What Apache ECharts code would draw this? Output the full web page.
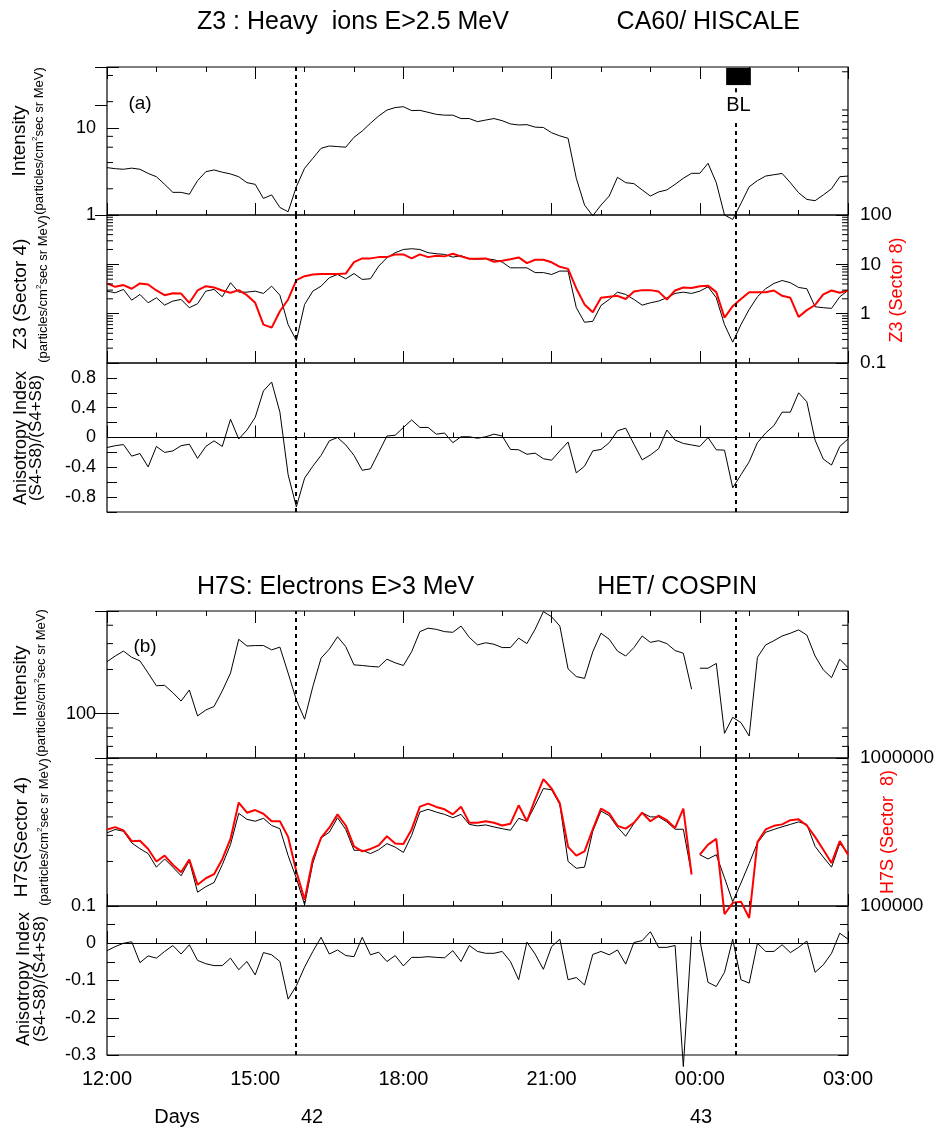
<!DOCTYPE html>
<html><head><meta charset="utf-8">
<script src="https://cdn.jsdelivr.net/npm/echarts@6/dist/echarts.min.js"></script>
<style>html,body{margin:0;padding:0;background:#fff}#c{width:945px;height:1130px}</style>
</head><body><div id="c"></div>
<script>
const FONT = 'Liberation Sans';
const stepMinutes = 10;                      // 10-minute averages from 12:00
const timeTickLabels = ['12:00','15:00','18:00','21:00','00:00','03:00'];
const eventClocks = ['15:50','00:44'];       // dotted vertical lines
const blClocks = ['00:32','01:02'];          // BL interval
const breakAfterIndexB = 71;                 // (b) data break between 23:50 and 00:00

// ---- Panel (a): Z3 heavy ions ----
const intensityA = [3.5,3.4,3.35,3.45,3.35,3.0,2.75,2.25,1.82,1.82,
 1.73,2.48,3.14,3.29,3.1,2.96,2.75,2.35,2.25,1.55,
 1.7,1.22,1.09,2.11,3.44,4.47,5.83,6.2,6.1,6.0,
 7.8,9.2,11.3,13.7,16.0,17.1,17.5,15.8,15.9,15.1,
 14.3,14.0,14.0,12.8,12.8,11.8,12.3,12.8,12.1,11.1,
 10.8,10.9,10.2,10.1,8.8,8.1,7.6,2.64,1.3,0.98,
 1.3,1.65,2.71,2.35,2.29,1.94,1.65,1.84,1.94,2.25,
 2.64,3.01,3.01,3.92,2.35,1.0,0.89,1.36,2.11,2.48,
 2.8,2.9,3.0,2.35,1.8,1.51,1.46,1.7,2.0,2.75,2.8];
const z3Sector4 = [2.86,2.65,3.1,1.88,2.45,1.66,2.1,1.49,1.8,1.94,
 1.32,1.59,2.86,3.1,2.2,4.24,2.73,2.73,2.86,2.57,
 3.61,2.37,0.6,0.286,1.54,2.86,3.61,5.35,6.24,5.1,
 6.5,4.94,5.1,9.2,13.6,17.2,20,20.7,20,17.2,
 16.4,15.9,14,15,13,12.7,13,12.4,11.1,8.5,
 8.5,8.5,6.8,6.8,6.24,7.3,7.3,1.32,0.67,0.7,
 1.47,1.94,2.73,2.45,1.94,1.49,1.66,1.8,2.1,2.57,
 2.73,2.57,2.86,3.5,2.1,0.6,0.264,0.6,1.22,2.2,
 3.2,4.1,4.7,4.24,3.4,3.2,1.38,1.32,1.28,2.2,2.95];
const z3Sector8 = [4.1,3.5,3.8,3.2,4.1,3.9,2.95,2.37,2.6,2.55,
 1.66,2.95,3.61,3.4,2.95,2.65,3.0,2.37,1.66,0.6,
 0.52,1.12,1.94,4.8,5.75,6.24,6.4,6.4,6.4,6.5,
 11.1,13.2,13.2,14,14,15.9,15.9,13.2,15.9,14,
 15,14.5,16.4,14.5,13,13,13.2,11.3,11.8,12.7,
 13.8,10.6,12.4,12.4,11,8.9,8.1,3.24,1.54,1.07,
 2.1,2.2,2.3,1.98,2.8,3.0,3.0,2.8,1.94,2.95,
 3.4,3.3,3.6,3.7,2.73,0.83,1.42,1.98,2.73,2.73,
 2.73,2.95,2.3,2.1,0.86,1.18,1.5,2.45,2.95,2.65,2.95];
const anisotropyA = [-0.135,-0.11,-0.095,-0.25,-0.215,-0.395,-0.12,-0.2,-0.18,-0.11,
 -0.09,-0.28,-0.12,-0.045,-0.12,0.245,-0.02,0.1,0.27,0.625,
 0.745,0.34,-0.5,-0.93,-0.545,-0.385,-0.24,-0.045,0.0,-0.1,
 -0.24,-0.44,-0.42,-0.2,0.02,0.03,0.135,0.235,0.135,0.135,
 0.045,0.06,-0.07,0.01,0.01,-0.01,0.01,0.045,0.02,-0.16,
 -0.165,-0.225,-0.21,-0.285,-0.305,-0.18,-0.06,-0.475,-0.385,-0.18,
 -0.16,-0.07,0.09,0.125,-0.09,-0.3,-0.235,-0.15,0.1,-0.035,
 -0.08,-0.1,-0.12,0.0,-0.165,-0.17,-0.675,-0.5,-0.325,-0.07,
 0.06,0.16,0.34,0.34,0.6,0.48,-0.035,-0.29,-0.37,-0.12,-0.02];

// ---- Panel (b): H7S electrons ----
const intensityB = [226,247,267,242,229,189,155,156,139,122,
 145,96.6,106,112,143,189,321,289,291,291,
 272,284,189,124,91.8,153,239,275,334,286,
 215,213,210,208,235,222,213,264,362,382,
 375,362,358,395,331,294,304,297,282,282,
 327,300,376,495,457,395,202,179,174,264,
 353,321,267,247,282,338,306,314,300,269,
 258,147,204,204,220,73.6,94.6,87,70.6,242,
 294,314,338,353,372,343,247,199,176,235,206];
const h7sSector4 = [0.312,0.329,0.32,0.267,0.244,0.226,0.183,0.208,0.183,0.16,
 0.202,0.124,0.135,0.144,0.19,0.26,0.423,0.385,0.374,0.391,
 0.35,0.333,0.219,0.154,0.102,0.195,0.289,0.315,0.395,0.329,
 0.238,0.238,0.226,0.24,0.264,0.25,0.23,0.3,0.431,0.45,
 0.431,0.416,0.395,0.416,0.356,0.348,0.353,0.342,0.333,0.325,
 0.391,0.374,0.479,0.622,0.61,0.486,0.2,0.18,0.183,0.32,
 0.438,0.408,0.341,0.296,0.362,0.427,0.4,0.4,0.37,0.33,
 0.33,0.165,0.222,0.208,0.222,0.155,0.107,0.143,0.194,0.267,
 0.315,0.329,0.343,0.356,0.37,0.356,0.253,0.214,0.183,0.264,0.228];
const h7sSector8 = [3.29e5,3.41e5,3.24e5,2.74e5,2.76e5,2.43e5,2.0e5,2.19e5,1.9e5,1.69e5,
 2.06e5,1.39e5,1.54e5,1.64e5,2.07e5,2.84e5,5.0e5,4.27e5,4.45e5,4.2e5,
 3.74e5,3.74e5,2.93e5,1.71e5,1.1e5,2.07e5,2.89e5,3.38e5,4.16e5,3.5e5,
 2.53e5,2.34e5,2.43e5,2.57e5,2.96e5,2.64e5,2.62e5,3.29e5,4.69e5,4.92e5,
 4.67e5,4.5e5,4.16e5,4.69e5,3.65e5,3.65e5,3.74e5,3.65e5,3.5e5,3.6e5,
 4.79e5,3.74e5,5.26e5,7.2e5,6.22e5,4.94e5,2.51e5,2.19e5,2.34e5,3.29e5,
 4.55e5,4.23e5,3.48e5,3.33e5,3.65e5,4.27e5,3.74e5,4.08e5,3.8e5,3.37e5,
 4.55e5,1.63e5,2.22e5,2.6e5,2.84e5,0.88e5,1.05e5,1.07e5,0.83e5,2.7e5,
 3.29e5,3.48e5,3.56e5,3.8e5,3.85e5,3.5e5,2.93e5,2.4e5,1.95e5,2.75e5,2.22e5];
const anisotropyB = [-0.02,-0.009,0.0,0.004,-0.052,-0.034,-0.04,-0.022,-0.006,-0.029,
 -0.004,-0.046,-0.055,-0.06,-0.06,-0.04,-0.071,-0.049,-0.085,-0.025,
 -0.031,-0.049,-0.15,-0.114,-0.064,-0.022,0.016,-0.029,-0.018,-0.033,
 -0.036,0.016,-0.031,-0.024,-0.049,-0.033,-0.061,-0.038,-0.038,-0.036,
 -0.038,-0.039,-0.02,-0.049,-0.006,-0.022,-0.027,-0.027,-0.022,-0.049,
 -0.098,0.003,-0.029,-0.07,-0.009,0.011,-0.098,-0.092,-0.112,-0.03,
 -0.022,-0.031,-0.018,-0.056,0.002,0.007,0.031,-0.011,-0.011,-0.006,
 -0.331,0.018,0.009,-0.105,-0.116,-0.078,0.011,-0.098,-0.107,0.0,
 -0.022,-0.022,-0.004,-0.025,-0.011,0.006,-0.078,-0.058,-0.027,0.027,0.011];

// log-axis minor tick values
const minorA1Left = [2,4,6,8,20,40];
const minorA1Right = [2,3,4,5,6,7,8,9,20];
const minorZ3 = [0.2,0.3,0.4,0.5,0.6,0.7,0.8,0.9,2,3,4,5,6,7,8,9,20,30,40,50,60,70,80,90];
const minorB1 = [60,70,80,200,300,400];
const minorB2Left = [0.2,0.3,0.4,0.5,0.6,0.7,0.8,0.9];
const minorB2Right = [2e5,3e5,4e5,5e5,6e5,7e5,8e5,9e5];

function hoursFrom(clock){ const p = clock.split(':').map(Number); return ((p[0]-12+24)%24) + p[1]/60; }
function toPairs(vals, breakAfter){
  const out = [];
  vals.forEach((v,i)=>{ const t = i*stepMinutes/60; out.push([t, v]);
    if (i === breakAfter) out.push([t + stepMinutes/120, null]); });
  return out;
}
const T_MAX = 15;
const ev = eventClocks.map(hoursFrom);
const bl = blClocks.map(hoursFrom);

const grids = [[67,148],[215,148],[363,149],[611,147],[758,148],[906,149]].map(g => ({
  left:107, width:741, top:g[0], height:g[1], show:true, borderColor:'#000', borderWidth:1.2, backgroundColor:'transparent'
}));

function xAx(gi, pos, showLabels){
  return {type:'value', gridIndex:gi, position:pos, min:0, max:T_MAX, interval:3,
    axisLine:{show:false}, splitLine:{show:false},
    axisTick:{show:true, inside:true, length:12, lineStyle:{color:'#000', width:1}},
    minorTick:{show:true, splitNumber:3, length:5, lineStyle:{color:'#000', width:1}},
    minorSplitLine:{show:false},
    axisLabel:{show:showLabels, margin:14, color:'#000', fontFamily:FONT, fontSize:20,
      formatter: v => timeTickLabels[Math.round(v/3)] || ''}};
}
const xAxes = [0,1,2,3,4,5].map(gi => xAx(gi,'bottom',gi===5));
xAxes.push(xAx(0,'top',false));
xAxes.push(xAx(3,'top',false));

function yAx(gi, pos, o){
  const base = {gridIndex:gi, position:pos, axisLine:{show:false}, splitLine:{show:false},
    axisTick:{show:true, inside:true, length:o.tick||12, lineStyle:{color:'#000', width:1}},
    axisLabel:{show:!!o.fmt, margin:o.margin||11, color:'#000', fontFamily:FONT, fontSize:o.fs||18, formatter:o.fmt||undefined,
      showMinLabel:true, showMaxLabel:true}};
  if (o.log) { base.type='log'; base.logBase=10; } else { base.type='value'; base.interval=o.interval; }
  base.min=o.min; base.max=o.max;
  if (o.minor) base.minorTick = {show:true, splitNumber:o.minor, length:o.minorLen||6, lineStyle:{color:'#000',width:1}};
  return base;
}
const near = (a,b)=>Math.abs(a-b) < 1e-9*Math.max(1,Math.abs(b));
const yAxes = [
  yAx(0,'left',{log:true,min:1,max:50,fmt:v=>(near(v,1)||near(v,10))?String(Math.round(v)):''}),
  yAx(0,'right',{log:true,min:1,max:22.1}),
  yAx(1,'left',{log:true,min:0.1,max:100}),
  yAx(1,'right',{log:true,min:0.1,max:100,fs:19,margin:12,fmt:v=>{const r=[0.1,1,10,100].find(x=>near(v,x));return r===undefined?'':String(r);}}),
  yAx(2,'left',{min:-1,max:1,interval:0.2,tick:10,fmt:v=>{const k=Math.round(v*10); if(Math.abs(k)>=10||k%4!==0) return ''; return k===0?'0':String(k/10);}}),
  yAx(2,'right',{min:-1,max:1,interval:0.2,tick:8}),
  yAx(3,'left',{log:true,min:50,max:500,fmt:v=>near(v,100)?'100':''}),
  yAx(3,'right',{log:true,min:50,max:500}),
  yAx(4,'left',{log:true,min:0.1,max:1}),
  yAx(4,'right',{log:true,min:1e5,max:1e6,fs:19,margin:12,fmt:v=>near(v,1e5)?'100000':(near(v,1e6)?'1000000':'')}),
  yAx(5,'left',{min:-0.3,max:0.1,interval:0.1,minor:2,minorLen:8,tick:12,fmt:v=>{const k=Math.round(v*10);return k===0?'0':String(k/10);}}),
  yAx(5,'right',{min:-0.3,max:0.1,interval:0.1,minor:2,minorLen:8,tick:10})
];

const dash = {type:[4,4], width:2, color:'#000'};
const zeroLine = {yAxis:0, lineStyle:{type:'solid', width:1.2, color:'#000'}};
function evLines(extra){ return {silent:true, symbol:['none','none'], label:{show:false}, animation:false,
  lineStyle:dash, data: ev.map(t=>({xAxis:t})).concat(extra||[])}; }

function lineSeries(name, gi, yi, vals, color, width, brk, ml){
  const s = {name, type:'line', xAxisIndex:gi, yAxisIndex:yi, data:toPairs(vals, brk),
    showSymbol:false, symbol:'none', clip:false, connectNulls:false, animation:false, z:3,
    lineStyle:{color, width}, itemStyle:{color}};
  if (ml) s.markLine = ml;
  return s;
}
function tickSeries(xi, yi, values, side, len){
  return {type:'custom', xAxisIndex:xi, yAxisIndex:yi, silent:true, animation:false, z:6, clip:false,
    data: values.map(v => [side==='left'?0:T_MAX, v]),
    renderItem:(params, api) => {
      const p = api.coord([api.value(0), api.value(1)]);
      const d = side==='left' ? len : -len;
      return {type:'line', shape:{x1:p[0], y1:p[1], x2:p[0]+d, y2:p[1]}, style:{stroke:'#000', lineWidth:1}};
    }};
}

const seriesA1 = lineSeries('Intensity (a)',0,0,intensityA,'#000',1,null,{
  silent:true, symbol:['none','none'], label:{show:false}, lineStyle:dash,
  data:[{xAxis:ev[0]}, [{coord:[ev[1],1]},{coord:[ev[1],11.7]}], [{coord:[ev[1],28.5]},{coord:[ev[1],24]}]]});
seriesA1.markArea = {silent:true, itemStyle:{color:'#000'},
  label:{show:true, position:'bottom', distance:10, formatter:'BL', color:'#000', fontFamily:FONT, fontSize:20},
  data:[[{coord:[bl[0],31]},{coord:[bl[1],49]}]]};

const series = [
  seriesA1,
  lineSeries('Z3 Sector 4',1,2,z3Sector4,'#000',1,null,evLines()),
  lineSeries('Z3 Sector 8',1,3,z3Sector8,'#ff0000',2,null),
  lineSeries('Anisotropy (a)',2,4,anisotropyA,'#000',1,null,evLines([zeroLine])),
  lineSeries('Intensity (b)',3,6,intensityB,'#000',1,breakAfterIndexB,evLines()),
  lineSeries('H7S Sector 4',4,8,h7sSector4,'#000',1,breakAfterIndexB,evLines()),
  lineSeries('H7S Sector 8',4,9,h7sSector8,'#ff0000',2,breakAfterIndexB),
  lineSeries('Anisotropy (b)',5,10,anisotropyB,'#000',1,breakAfterIndexB,evLines([zeroLine])),
  tickSeries(0,0,minorA1Left,'left',6),
  tickSeries(0,1,minorA1Right,'right',6),
  tickSeries(1,2,minorZ3,'left',6),
  tickSeries(1,3,minorZ3,'right',6),
  tickSeries(3,6,minorB1,'left',6),
  tickSeries(3,7,minorB1,'right',6),
  tickSeries(4,8,minorB2Left,'left',6),
  tickSeries(4,9,minorB2Right,'right',6)
];

function txt(x,y,text,size,opt){
  opt = opt||{};
  return {type:'text', x, y, rotation: opt.rot||0, silent:true, z:10,
    style:Object.assign({text, fontFamily:FONT, fontSize:size, fill:opt.color||'#000',
      align:opt.align||'center', verticalAlign:'middle'}, opt.style||{})};
}
const R = Math.PI/2;
const unitsText = '(particles/cm{sup|2}sec sr MeV)';
const unitsStyle = {rich:{sup:{fontSize:8, verticalAlign:'top', lineHeight:8, fontFamily:FONT}}, lineHeight:16};
const graphics = [
  txt(197,22,'Z3 : Heavy  ions E>2.5 MeV',25,{align:'left'}),
  txt(800,22,'CA60/ HISCALE',25,{align:'right'}),
  txt(197,587,'H7S: Electrons E>3 MeV',25,{align:'left'}),
  txt(757,587,'HET/ COSPIN',25,{align:'right'}),
  txt(140,104,'(a)',19),
  txt(145,647,'(b)',19),
  txt(20,141,'Intensity',19,{rot:R}),
  txt(39,141,unitsText,13,{rot:R, style:unitsStyle}),
  txt(21,294,'Z3 (Sector 4)',19,{rot:R}),
  txt(43,289,unitsText,13,{rot:R, style:unitsStyle}),
  txt(21,438,'Anisotropy Index',18,{rot:R}),
  txt(36,438,'(S4-S8)/(S4+S8)',17,{rot:R}),
  txt(897,290,'Z3 (Sector 8)',18,{rot:R, color:'#ff0000'}),
  txt(21,681,'Intensity',19,{rot:R}),
  txt(41,683,unitsText,13,{rot:R, style:unitsStyle}),
  txt(22,837,'H7S(Sector 4)',19,{rot:R}),
  txt(44,832,unitsText,13,{rot:R, style:unitsStyle}),
  txt(24,979,'Anisotropy Index',18,{rot:R}),
  txt(40,979,'(S4-S8)/(S4+S8)',17,{rot:R}),
  txt(888,832,'H7S (Sector  8)',18,{rot:R, color:'#ff0000'}),
  txt(177,1117,'Days',20),
  txt(312,1117,'42',20),
  txt(701,1117,'43',20)
];

const chart = echarts.init(document.getElementById('c'), null, {renderer:'canvas'});
chart.setOption({
  animation:false, backgroundColor:'#fff',
  grid:grids, xAxis:xAxes, yAxis:yAxes, series, graphic:graphics
});
</script></body></html>
